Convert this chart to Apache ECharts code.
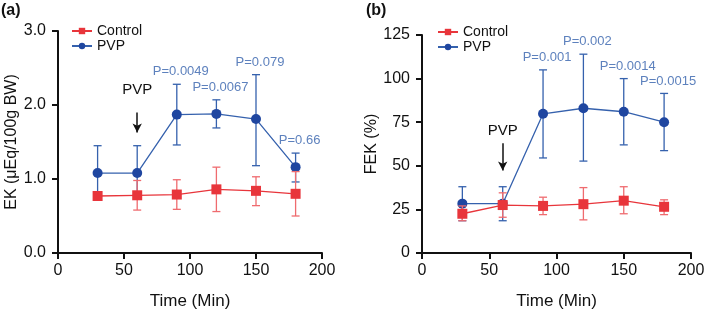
<!DOCTYPE html>
<html>
<head>
<meta charset="utf-8">
<script src="https://cdn.jsdelivr.net/npm/echarts@6/dist/echarts.min.js"></script>
<style>
html,body{margin:0;padding:0;background:#fff;}
#chart{width:709px;height:315px;}
</style>
</head>
<body>
<div id="chart"></div>
<script>
// x values (Min)
var times = [30, 60, 90, 120, 150, 180];

// panel (a) EK
var ekControl = [0.77, 0.78, 0.79, 0.86, 0.84, 0.80];
var ekControlLow = [0.74, 0.58, 0.59, 0.56, 0.64, 0.50];
var ekControlHigh = [0.80, 0.98, 0.99, 1.16, 1.03, 1.10];
var ekPvp = [1.08, 1.08, 1.87, 1.88, 1.81, 1.16];
var ekPvpLow = [0.74, 0.74, 1.46, 1.69, 1.18, 0.96];
var ekPvpHigh = [1.45, 1.45, 2.28, 2.07, 2.41, 1.35];
var ekP = ['P=0.0049', 'P=0.0067', 'P=0.079', 'P=0.66'];

// panel (b) FEK
var fekControl = [22.5, 27.5, 27, 28, 30, 26.5];
var fekControlLow = [18.5, 20.5, 22, 19, 22.5, 22];
var fekControlHigh = [27, 34.5, 32, 37.5, 38, 30.5];
var fekPvp = [28.3, 28.3, 79.8, 83, 81, 75];
var fekPvpLow = [18.5, 18.5, 54.5, 52.7, 62, 58.7];
var fekPvpHigh = [38, 38, 105, 114, 100, 91.5];
var fekP = ['P=0.001', 'P=0.002', 'P=0.0014', 'P=0.0015'];

// PVP arrow: [time, text y, arrow start, arrow end]
var ekArrow = [60, 2.21, 1.90, 1.63];
var fekArrow = [60, 69.8, 63, 47.3];

var RED = '#e8353b';
var RED_ERR = '#ef6b6f';
var BLUE = '#3561ad';
var BLUE_DOT = '#1f46a0';
var FONT = "'Liberation Sans', Arial, sans-serif";

function pairs(ys){
	var out = [];
	for(var i=0;i<times.length;i++) out.push([times[i], ys[i]]);
	return out;
}
function errData(lo, hi){
	var out = [];
	for(var i=0;i<times.length;i++) out.push([times[i], lo[i], hi[i]]);
	return out;
}
function pData(hi, labels){
	var out = [];
	// p values start at 90 min
	for(var i=0;i<labels.length;i++) out.push([times[i+2], hi[i+2], labels[i]]);
	return out;
}
function errRender(color){
	return function(params, api){
		var x = api.value(0);
		var lo = api.coord([x, api.value(1)]);
		var hi = api.coord([x, api.value(2)]);
		var w = 4;
		var st = {stroke: color, lineWidth: 1.3};
		return {type:'group', children:[
			{type:'line', shape:{x1:lo[0], y1:lo[1], x2:hi[0], y2:hi[1]}, style:st},
			{type:'line', shape:{x1:lo[0]-w, y1:lo[1], x2:lo[0]+w, y2:lo[1]}, style:st},
			{type:'line', shape:{x1:hi[0]-w, y1:hi[1], x2:hi[0]+w, y2:hi[1]}, style:st}
		]};
	};
}
function xAxis(idx){
	return {
		gridIndex: idx, type:'value', min:0, max:200, interval:50,
		name:'Time (Min)', nameLocation:'middle', nameGap:40,
		nameTextStyle:{fontSize:17, color:'#111', fontFamily:FONT},
		axisLine:{onZero:false, lineStyle:{color:'#111', width:2}},
		axisTick:{show:true, length:6, lineStyle:{color:'#111', width:2}},
		axisLabel:{fontSize:16, color:'#111', fontFamily:FONT, margin:10},
		splitLine:{show:false}
	};
}
function yAxis(idx, max, interval, name, gap, fmt){
	return {
		gridIndex: idx, type:'value', min:0, max:max, interval:interval,
		name:name, nameLocation:'middle', nameGap:gap,
		nameTextStyle:{fontSize:16, color:'#111', fontFamily:FONT},
		axisLine:{show:true, lineStyle:{color:'#111', width:2}},
		axisTick:{show:true, length:6, lineStyle:{color:'#111', width:2}},
		axisLabel:{fontSize:16, color:'#111', fontFamily:FONT, margin:12, formatter:fmt},
		splitLine:{show:false}
	};
}
function arrowMark(arr){
	return {
		silent:true, symbol:['none','arrow'], symbolSize:[7,9],
		lineStyle:{color:'#111', width:1.5, type:'solid'},
		label:{show:false},
		data:[[{coord:[arr[0], arr[2]]}, {coord:[arr[0], arr[3]]}]]
	};
}
function textMark(arr){
	return {
		silent:true, symbol:'circle', symbolSize:0,
		label:{show:true, position:'inside', formatter:'PVP', color:'#111', fontSize:15, fontFamily:FONT},
		data:[{coord:[arr[0], arr[1]]}]
	};
}
function panelSeries(idx, ctl, ctlLo, ctlHi, pvp, pvpLo, pvpHi, pLabels, arr){
	return [
		{type:'custom', xAxisIndex:idx, yAxisIndex:idx, renderItem:errRender(BLUE),
		 data:errData(pvpLo, pvpHi), encode:{x:0, y:[1,2]}, silent:true, z:2},
		{name:'PVP', type:'line', xAxisIndex:idx, yAxisIndex:idx, data:pairs(pvp),
		 symbol:'circle', symbolSize:10, lineStyle:{color:BLUE, width:1.3},
		 itemStyle:{color:BLUE_DOT}, z:3,
		 markLine:arrowMark(arr), markPoint:textMark(arr)},
		{type:'custom', xAxisIndex:idx, yAxisIndex:idx, renderItem:errRender(RED_ERR),
		 data:errData(ctlLo, ctlHi), encode:{x:0, y:[1,2]}, silent:true, z:4},
		{name:'Control', type:'line', xAxisIndex:idx, yAxisIndex:idx, data:pairs(ctl),
		 symbol:'rect', symbolSize:10, lineStyle:{color:RED, width:1.3},
		 itemStyle:{color:RED}, z:5},
		{type:'scatter', xAxisIndex:idx, yAxisIndex:idx, data:pData(pvpHi, pLabels),
		 symbolSize:0, silent:true, z:6,
		 label:{show:true, position:'top', distance:6, offset:[4,0], color:BLUE, fontSize:13, fontFamily:FONT,
		 	formatter:function(p){ return p.value[2]; }}}
	];
}
function legend(left, top){
	return {
		left:left, top:top, orient:'vertical', data:['Control','PVP'],
		itemWidth:20, itemHeight:8, itemGap:1,
		textStyle:{fontSize:14, color:'#111', fontFamily:FONT, lineHeight:14}
	};
}

var chart = echarts.init(document.getElementById('chart'), null, {renderer:'canvas'});
var option = {
	animation:false,
	backgroundColor:'#fff',
	title:[
		{text:'(a)', left:1, top:3, padding:0, textStyle:{fontSize:16, fontWeight:'bold', color:'#111', fontFamily:FONT}},
		{text:'(b)', left:366, top:3, padding:0, textStyle:{fontSize:16, fontWeight:'bold', color:'#111', fontFamily:FONT}}
	],
	legend:[legend(66, 19), legend(432, 20)],
	grid:[
		{left:58, top:31, width:264, height:224},
		{left:422, top:35, width:269, height:222}
	],
	xAxis:[xAxis(0), xAxis(1)],
	yAxis:[
		yAxis(0, 3, 1, 'EK (\u03bcEq/100g BW)', 38, function(v){ return v.toFixed(1); }),
		yAxis(1, 125, 25, 'FEK (%)', 42, null)
	],
	series:[].concat(
		panelSeries(0, ekControl, ekControlLow, ekControlHigh, ekPvp, ekPvpLow, ekPvpHigh, ekP, ekArrow),
		panelSeries(1, fekControl, fekControlLow, fekControlHigh, fekPvp, fekPvpLow, fekPvpHigh, fekP, fekArrow)
	)
};
chart.setOption(option);
</script>
</body>
</html>
